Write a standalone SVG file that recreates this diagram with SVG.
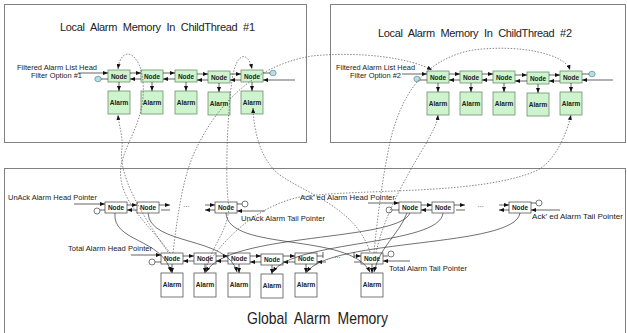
<svg xmlns="http://www.w3.org/2000/svg" width="627" height="333" viewBox="0 0 627 333">
<defs>
<style>
.frame{fill:#fff;stroke:#808080;stroke-width:1}
.ln{fill:#cdf4cd;stroke:#6f8f6f;stroke-width:0.8}
.gn{fill:#fff;stroke:#555;stroke-width:0.8}
.t{font-family:"Liberation Sans",Arial,sans-serif;fill:#222}
.lbl{font-size:6.5px;font-weight:bold;text-anchor:middle}
.ptr{font-size:7px}
.ttl{font-size:11px}
.a{fill:none;stroke:#222;stroke-width:0.7;marker-end:url(#ah)}
.p{fill:none;stroke:#222;stroke-width:0.7}
.s{fill:none;stroke:#333;stroke-width:0.7;marker-end:url(#ah)}
.d{fill:none;stroke:#555;stroke-width:0.7;stroke-dasharray:1.5 1.5;marker-end:url(#ah)}
.lc{fill:#b8dde6;stroke:#5f8a8a;stroke-width:0.7}
.gc{fill:#fff;stroke:#444;stroke-width:0.7}
</style>
<marker id="ah" markerUnits="userSpaceOnUse" markerWidth="5" markerHeight="4" refX="5" refY="2" orient="auto"><path d="M0,0 L5,2 L0,4 z" fill="#111"/></marker>
</defs>
<rect width="627" height="333" fill="#fff"/>

<g id="frames">
<rect class="frame" x="4.5" y="4.5" width="302" height="138"/>
<rect class="frame" x="330.5" y="4.5" width="295" height="138"/>
<rect class="frame" x="4.5" y="168.5" width="621" height="170"/>
</g>

<g id="titles">
<text class="t ttl" x="60" y="31" textLength="195" lengthAdjust="spacing" word-spacing="3">Local Alarm Memory In ChildThread #1</text>
<text class="t ttl" x="378" y="37" textLength="194" lengthAdjust="spacing" word-spacing="3">Local Alarm Memory In ChildThread #2</text>
<text class="t" x="247" y="324" font-size="17" textLength="141" lengthAdjust="spacingAndGlyphs" word-spacing="4">Global Alarm Memory</text>
</g>

<g id="labels">
<text class="t ptr" x="17" y="70" textLength="80" lengthAdjust="spacingAndGlyphs">Filtered Alarm List Head</text>
<text class="t ptr" x="31" y="78" textLength="51" lengthAdjust="spacingAndGlyphs">Filter Option #1</text>
<text class="t ptr" x="336" y="70" textLength="79" lengthAdjust="spacingAndGlyphs">Filtered Alarm List Head</text>
<text class="t ptr" x="350" y="78" textLength="51" lengthAdjust="spacingAndGlyphs">Filter Option #2</text>
<text class="t ptr" x="8" y="200" textLength="89" lengthAdjust="spacingAndGlyphs">UnAck Alarm Head Pointer</text>
<text class="t ptr" x="241" y="221" textLength="84" lengthAdjust="spacingAndGlyphs">UnAck Alarm Tail Pointer</text>
<text class="t ptr" x="300" y="200" textLength="95" lengthAdjust="spacingAndGlyphs">Ack’ ed Alarm Head Pointer</text>
<text class="t ptr" x="532" y="219" textLength="91" lengthAdjust="spacingAndGlyphs">Ack’ ed Alarm Tail Pointer</text>
<text class="t ptr" x="68" y="251" textLength="84" lengthAdjust="spacingAndGlyphs">Total Alarm Head Pointer</text>
<text class="t ptr" x="389" y="271" textLength="78" lengthAdjust="spacingAndGlyphs">Total Alarm Tail Pointer</text>
<text class="t ptr" x="183" y="207">…</text>
<text class="t ptr" x="477" y="207">…</text>
<text class="t ptr" x="334" y="258">…</text>
</g>

<!-- Local chain 1 -->
<g id="l1n1"><rect class="ln" x="108" y="70" width="22" height="12"/><text class="t lbl" x="119" y="78.5">Node</text></g>
<g id="l1n2"><rect class="ln" x="141" y="70" width="22" height="12"/><text class="t lbl" x="152" y="78.5">Node</text></g>
<g id="l1n3"><rect class="ln" x="175" y="70" width="22" height="12"/><text class="t lbl" x="186" y="78.5">Node</text></g>
<g id="l1n4"><rect class="ln" x="208" y="71" width="22" height="12"/><text class="t lbl" x="219" y="79.5">Node</text></g>
<g id="l1n5"><rect class="ln" x="241" y="70" width="22" height="12"/><text class="t lbl" x="252" y="78.5">Node</text></g>
<g id="l1a1"><rect class="ln" x="108" y="91" width="22" height="23"/><text class="t lbl" x="119" y="104.5">Alarm</text></g>
<g id="l1a2"><rect class="ln" x="141" y="91" width="22" height="23"/><text class="t lbl" x="152" y="104.5">Alarm</text></g>
<g id="l1a3"><rect class="ln" x="175" y="91" width="22" height="23"/><text class="t lbl" x="186" y="104.5">Alarm</text></g>
<g id="l1a4"><rect class="ln" x="208" y="92" width="22" height="23"/><text class="t lbl" x="219" y="105.5">Alarm</text></g>
<g id="l1a5"><rect class="ln" x="241" y="91" width="22" height="23"/><text class="t lbl" x="252" y="104.5">Alarm</text></g>
<g id="l1nulls"><ellipse class="lc" cx="98" cy="79" rx="3.2" ry="2.8"/><ellipse class="lc" cx="273" cy="73" rx="3.2" ry="2.8"/></g>

<!-- Local chain 2 -->
<g id="l2n1"><rect class="ln" x="427" y="71" width="22" height="12"/><text class="t lbl" x="438" y="79.5">Node</text></g>
<g id="l2n2"><rect class="ln" x="460" y="71" width="22" height="12"/><text class="t lbl" x="471" y="79.5">Node</text></g>
<g id="l2n3"><rect class="ln" x="493" y="71" width="22" height="12"/><text class="t lbl" x="504" y="79.5">Node</text></g>
<g id="l2n4"><rect class="ln" x="527" y="72" width="22" height="12"/><text class="t lbl" x="538" y="80.5">Node</text></g>
<g id="l2n5"><rect class="ln" x="560" y="71" width="22" height="12"/><text class="t lbl" x="571" y="79.5">Node</text></g>
<g id="l2a1"><rect class="ln" x="427" y="92" width="22" height="23"/><text class="t lbl" x="438" y="105.5">Alarm</text></g>
<g id="l2a2"><rect class="ln" x="460" y="92" width="22" height="23"/><text class="t lbl" x="471" y="105.5">Alarm</text></g>
<g id="l2a3"><rect class="ln" x="493" y="92" width="22" height="23"/><text class="t lbl" x="504" y="105.5">Alarm</text></g>
<g id="l2a4"><rect class="ln" x="527" y="93" width="22" height="23"/><text class="t lbl" x="538" y="106.5">Alarm</text></g>
<g id="l2a5"><rect class="ln" x="560" y="92" width="22" height="23"/><text class="t lbl" x="571" y="105.5">Alarm</text></g>
<g id="l2nulls"><ellipse class="lc" cx="417" cy="79" rx="3.2" ry="2.8"/><ellipse class="lc" cx="592" cy="74" rx="3.2" ry="2.8"/></g>

<!-- Global UnAck chain -->
<g id="un1"><rect class="gn" x="105" y="202" width="22" height="11"/><text class="t lbl" x="116" y="209.8">Node</text></g>
<g id="un2"><rect class="gn" x="137" y="202" width="22" height="11"/><text class="t lbl" x="148" y="209.8">Node</text></g>
<g id="un3"><rect class="gn" x="215" y="202" width="22" height="11"/><text class="t lbl" x="226" y="209.8">Node</text></g>
<!-- Global Ack'ed chain -->
<g id="ak1"><rect class="gn" x="399" y="202" width="22" height="11"/><text class="t lbl" x="410" y="209.8">Node</text></g>
<g id="ak2"><rect class="gn" x="432" y="202" width="22" height="11"/><text class="t lbl" x="443" y="209.8">Node</text></g>
<g id="ak3"><rect class="gn" x="509" y="202" width="22" height="11"/><text class="t lbl" x="520" y="209.8">Node</text></g>
<!-- Global Total chain -->
<g id="tn1"><rect class="gn" x="161" y="253" width="22" height="11"/><text class="t lbl" x="172" y="260.8">Node</text></g>
<g id="tn2"><rect class="gn" x="194" y="253" width="22" height="11"/><text class="t lbl" x="205" y="260.8">Node</text></g>
<g id="tn3"><rect class="gn" x="228" y="253" width="22" height="11"/><text class="t lbl" x="239" y="260.8">Node</text></g>
<g id="tn4"><rect class="gn" x="261" y="254" width="22" height="11"/><text class="t lbl" x="272" y="261.8">Node</text></g>
<g id="tn5"><rect class="gn" x="295" y="253" width="22" height="11"/><text class="t lbl" x="306" y="260.8">Node</text></g>
<g id="tn6"><rect class="gn" x="361" y="253" width="22" height="11"/><text class="t lbl" x="372" y="260.8">Node</text></g>
<g id="ta1"><rect class="gn" x="161" y="273" width="22" height="24"/><text class="t lbl" x="172" y="287">Alarm</text></g>
<g id="ta2"><rect class="gn" x="194" y="273" width="22" height="24"/><text class="t lbl" x="205" y="287">Alarm</text></g>
<g id="ta3"><rect class="gn" x="228" y="273" width="22" height="24"/><text class="t lbl" x="239" y="287">Alarm</text></g>
<g id="ta4"><rect class="gn" x="261" y="274" width="22" height="24"/><text class="t lbl" x="272" y="288">Alarm</text></g>
<g id="ta5"><rect class="gn" x="295" y="273" width="22" height="24"/><text class="t lbl" x="306" y="287">Alarm</text></g>
<g id="ta6"><rect class="gn" x="361" y="273" width="22" height="24"/><text class="t lbl" x="372" y="287">Alarm</text></g>
<g id="gnulls">
<circle class="gc" cx="97" cy="211" r="3"/><circle class="gc" cx="245" cy="204" r="3"/>
<circle class="gc" cx="389" cy="210" r="3"/><circle class="gc" cx="539" cy="203" r="3"/>
<circle class="gc" cx="152" cy="262" r="3"/><circle class="gc" cx="391" cy="254" r="3"/>
</g>

<g id="connectors">
<!-- local 1 list links -->
<path class="a" d="M78,73 H108"/>
<path class="p" d="M101,79 H108"/>
<path class="a" d="M130,73 H141"/><path class="a" d="M141,79 H130"/>
<path class="a" d="M163,73 H175"/><path class="a" d="M175,79 H163"/>
<path class="a" d="M197,74 H208"/><path class="a" d="M208,80 H197"/>
<path class="a" d="M230,74 H241"/><path class="a" d="M241,80 H230"/>
<path class="p" d="M263,73 H270"/>
<path class="a" d="M295,80 H263"/>
<path class="a" d="M119,82 V91"/><path class="a" d="M152,82 V91"/><path class="a" d="M186,82 V91"/><path class="a" d="M219,83 V92"/><path class="a" d="M252,82 V91"/>
<!-- local 2 list links -->
<path class="a" d="M402,74 H427"/>
<path class="p" d="M420,80 H427"/>
<path class="a" d="M449,74 H460"/><path class="a" d="M460,80 H449"/>
<path class="a" d="M482,74 H493"/><path class="a" d="M493,80 H482"/>
<path class="a" d="M515,75 H527"/><path class="a" d="M527,81 H515"/>
<path class="a" d="M549,75 H560"/><path class="a" d="M560,81 H549"/>
<path class="p" d="M582,74 H589"/>
<path class="a" d="M613,80 H582"/>
<path class="a" d="M438,83 V92"/><path class="a" d="M471,83 V92"/><path class="a" d="M504,83 V92"/><path class="a" d="M538,84 V93"/><path class="a" d="M571,83 V92"/>
<!-- UnAck links -->
<path class="a" d="M74,204 H105"/><path class="p" d="M100,210 H105"/>
<path class="a" d="M127,205 H137"/><path class="a" d="M137,210 H127"/>
<path class="a" d="M159,205 H170"/><path class="p" d="M161,210 H170"/>
<path class="a" d="M205,205 H215"/><path class="a" d="M215,210 H205"/>
<path class="p" d="M237,204 H242"/><path class="a" d="M265,211 H237"/>
<!-- Ack'ed links -->
<path class="a" d="M368,203 H399"/><path class="p" d="M392,210 H399"/>
<path class="a" d="M421,205 H432"/><path class="a" d="M432,210 H421"/>
<path class="a" d="M454,205 H465"/><path class="p" d="M456,210 H465"/>
<path class="a" d="M499,205 H509"/><path class="a" d="M509,210 H499"/>
<path class="p" d="M531,203 H536"/><path class="a" d="M560,210 H531"/>
<!-- Total links -->
<path class="a" d="M131,255 H161"/><path class="p" d="M155,262 H161"/>
<path class="a" d="M183,256 H194"/><path class="a" d="M194,261 H183"/>
<path class="a" d="M216,256 H228"/><path class="a" d="M228,261 H216"/>
<path class="a" d="M250,256 H261"/><path class="a" d="M261,262 H250"/>
<path class="a" d="M283,256 H295"/><path class="a" d="M295,262 H283"/>
<path class="p" d="M317,256 H323 M323,252 V258"/><path class="a" d="M326,262 H317"/>
<path class="a" d="M354,256 H361"/><path class="p" d="M354,252 V258 M354,262 H361"/>
<path class="p" d="M383,256 H388"/><path class="a" d="M410,261 H383"/>
<path class="a" d="M172,264 V273"/><path class="a" d="M205,264 V273"/><path class="a" d="M239,264 V273"/><path class="a" d="M272,265 V274"/><path class="a" d="M306,264 V273"/><path class="a" d="M372,264 V273"/>
<!-- solid cross references -->
<path class="s" d="M115,213 C112,242 162,238 171,272"/>
<path class="s" d="M148,213 C150,246 228,236 237,272"/>
<path class="s" d="M226,213 C228,252 350,232 370,272"/>
<path class="s" d="M410,213 C398,242 228,232 206,272"/>
<path class="s" d="M407,213 C398,236 380,246 374,272"/>
<path class="s" d="M443,213 C440,246 292,240 273,272"/>
<path class="s" d="M520,213 C515,248 330,238 307,272"/>
<!-- dotted references from global to local -->
<path class="d" d="M170,253 C150,225 116,200 121,166 C126,140 146,120 143,82 C141,52 121,44 118,69"/>
<path class="d" d="M168,252 C140,212 118,175 122,148 C123,136 119,126 118,115"/>
<path class="d" d="M173,253 C178,210 184,172 197,147 C215,110 250,66 312,56 C360,51 410,58 432,70"/>
<path class="d" d="M206,268 C215,240 232,226 228,200 C225,170 228,110 232,80 C236,52 248,50 252,69"/>
<path class="d" d="M370,252 C355,205 300,192 276,172 C260,156 254,132 253,108"/>
<path class="d" d="M374,253 C378,210 384,170 390,142 C400,100 420,60 473,50 C520,44 565,54 570,70"/>
<path class="d" d="M376,253 C385,210 415,162 427,142 C432,132 437,125 438,115"/>
<path class="d" d="M205,268 C225,236 260,205 300,197 C360,188 480,196 538,170 C555,160 566,136 571,115"/>
</g>
</svg>
